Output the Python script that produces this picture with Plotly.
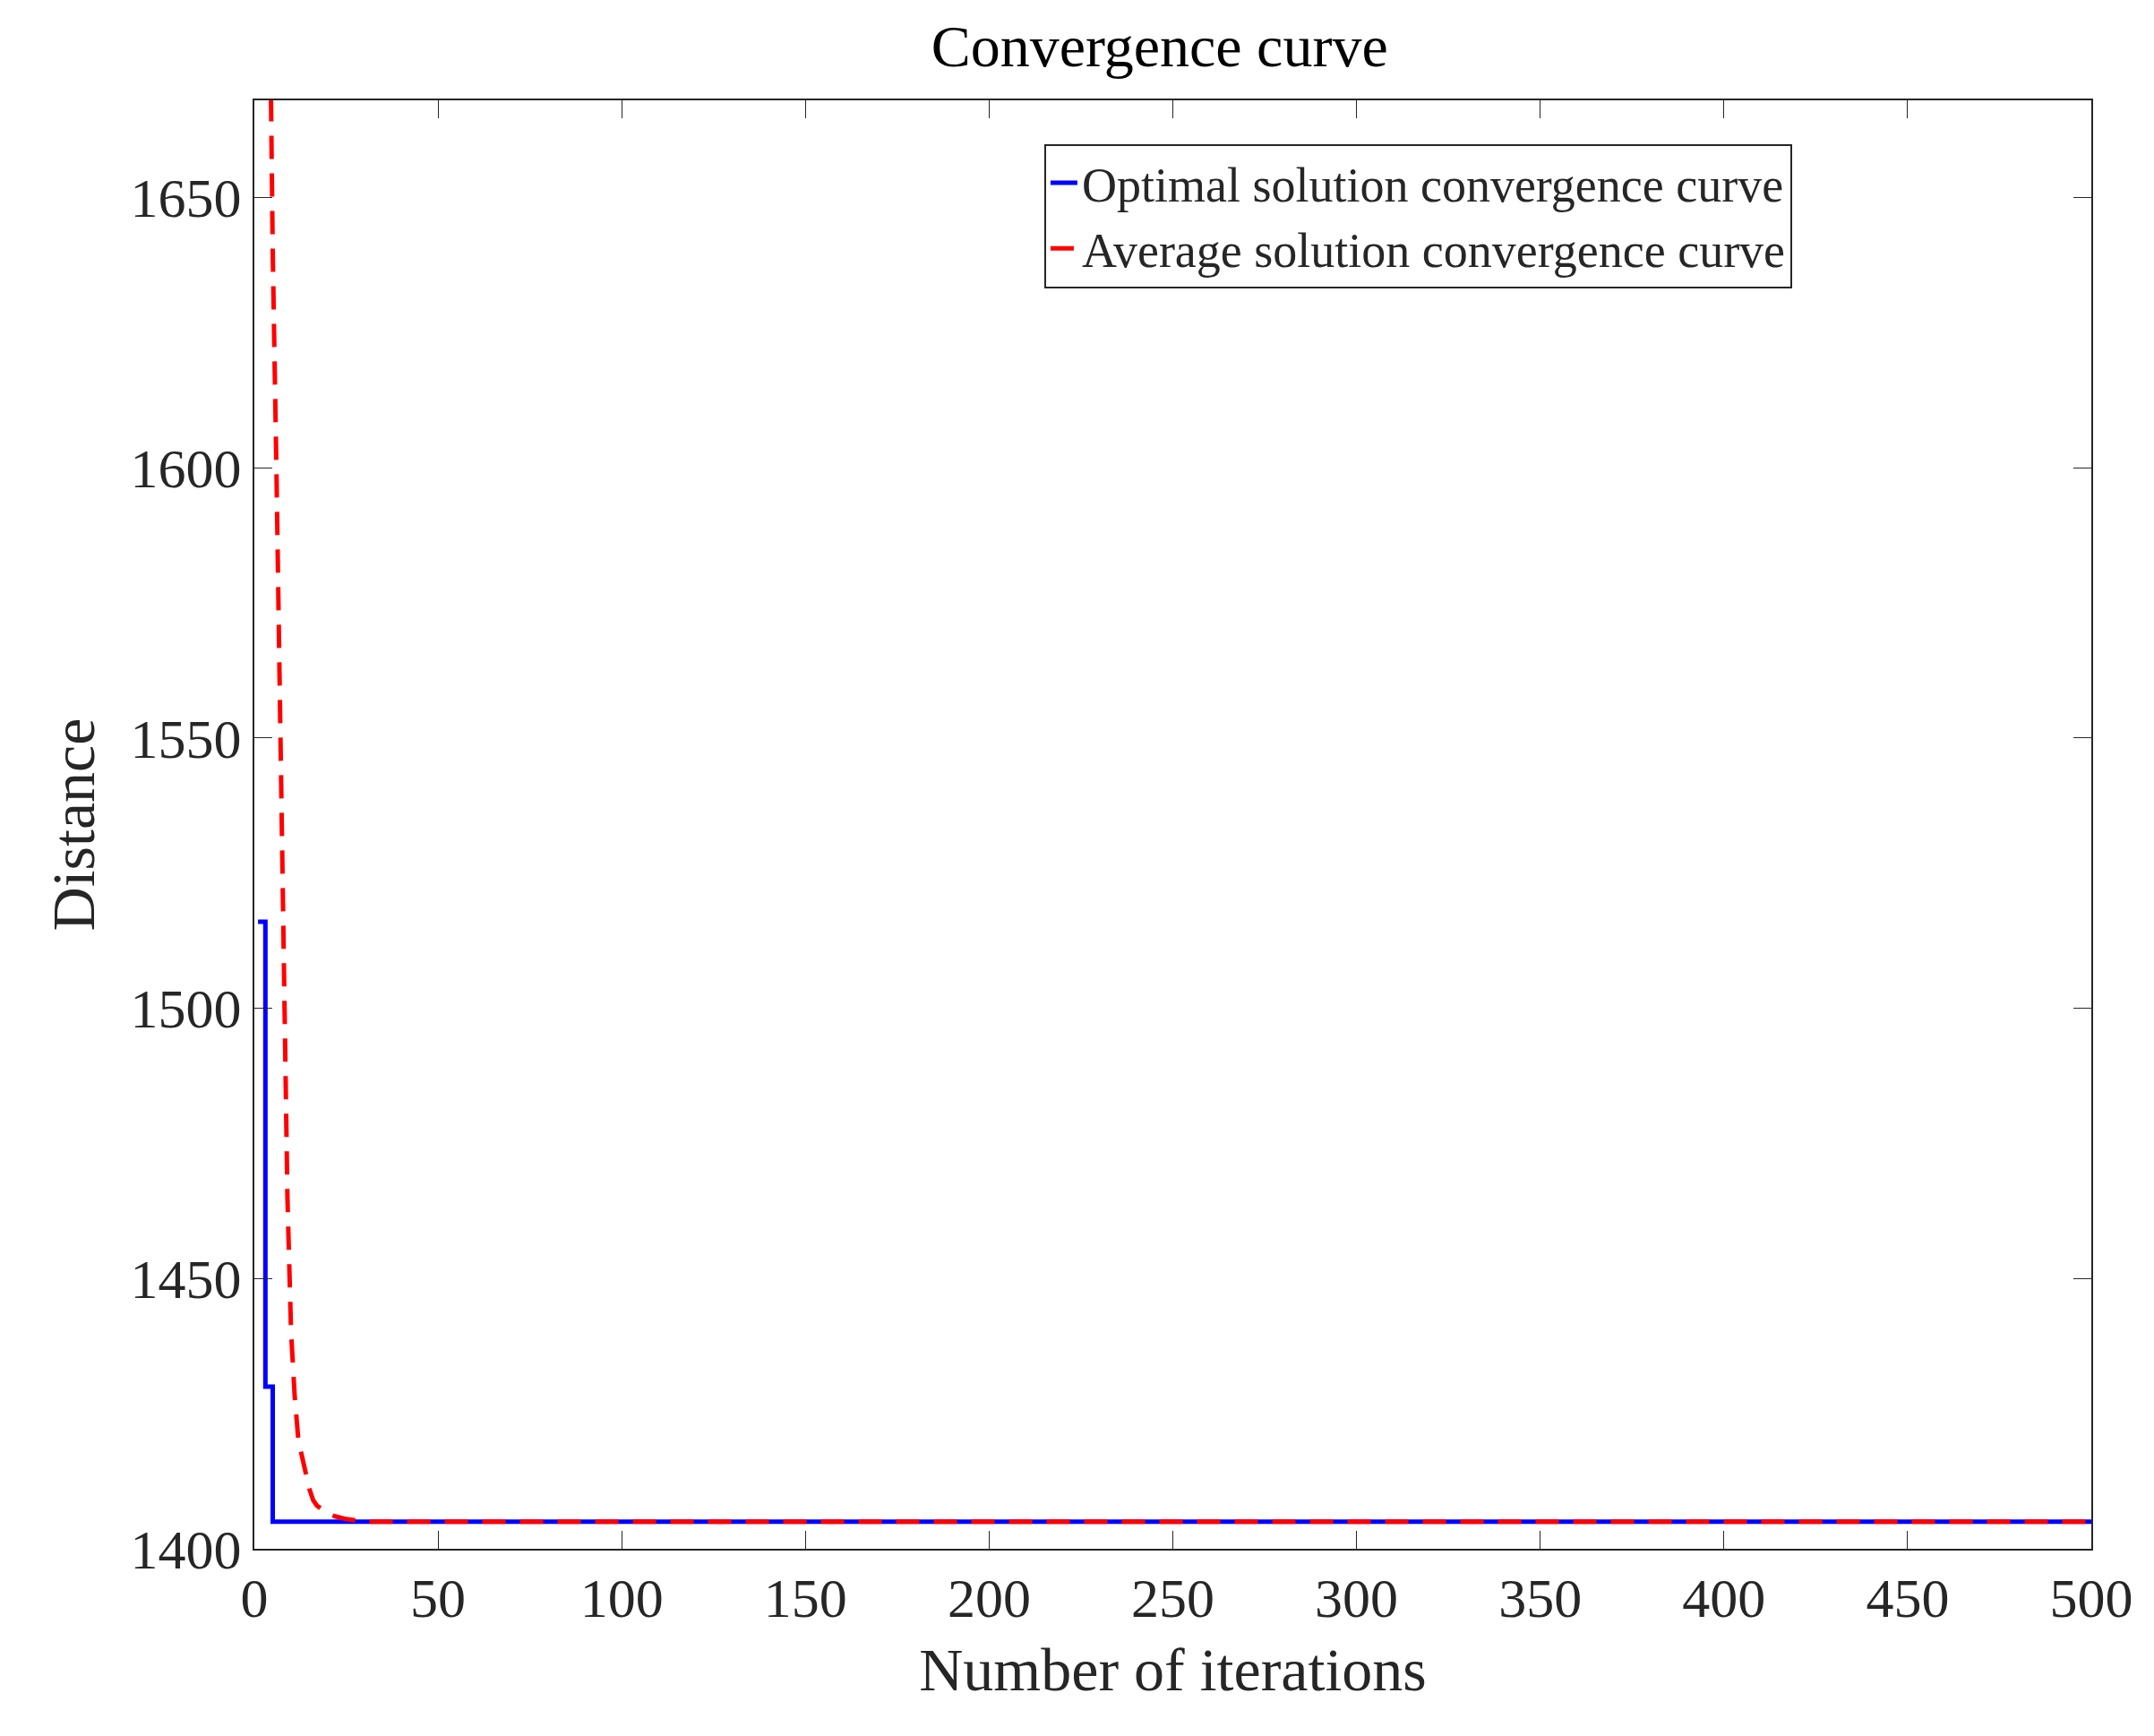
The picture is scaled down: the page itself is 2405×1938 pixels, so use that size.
import plotly.graph_objects as go

# optimal solution (step curve)
best_iter = [1, 2, 3, 4, 5, 500]
best_dist = [1516, 1516, 1430, 1430, 1405, 1405]

# average solution
avg_iter = [1, 2, 3, 4, 5, 6, 7, 8, 9, 10, 11, 12, 13, 14, 15, 16, 17, 18, 20, 22, 25, 30, 500]
avg_dist = [2100, 1900, 1780, 1700, 1640, 1600, 1550, 1500, 1465, 1440, 1428, 1420,
            1417, 1414, 1411, 1409, 1408, 1407.5, 1406.5, 1406, 1405.5, 1405, 1405]

font = "Liberation Serif"

fig = go.Figure()
fig.add_trace(go.Scatter(x=best_iter, y=best_dist, mode="lines", line_shape="hv",
                         name="Optimal solution convergence curve",
                         line=dict(color="#0000ff", width=5)))
fig.add_trace(go.Scatter(x=avg_iter, y=avg_dist, mode="lines",
                         name="Average solution convergence curve",
                         line=dict(color="#ff0000", width=5, dash="26px,16px")))

axis = dict(showgrid=False, zeroline=False, showline=True, linecolor="#262626", linewidth=2,
            mirror="ticks", ticks="inside", ticklen=20, tickcolor="#262626",
            tickfont=dict(family=font, size=62, color="#262626"))
fig.update_layout(
    width=2405, height=1938,
    paper_bgcolor="white", plot_bgcolor="white",
    margin=dict(l=276, r=78, t=104, b=217),
    title=dict(text="Convergence curve", x=0.535, xanchor="center", y=0.99, yanchor="top",
               font=dict(family=font, size=66, color="black")),
    xaxis=dict(range=[0, 500], dtick=50, title=dict(text="Number of iterations", standoff=22,
               font=dict(family=font, size=68, color="#262626")), **axis),
    yaxis=dict(range=[1400, 1668], tickvals=[1400, 1450, 1500, 1550, 1600, 1650],
               title=dict(text="Distance", standoff=18, font=dict(family=font, size=68, color="#262626")),
               **axis),
    legend=dict(x=0.43, y=0.97, xanchor="left", yanchor="top", bgcolor="white",
                bordercolor="#262626", borderwidth=2, tracegroupgap=0,
                font=dict(family=font, size=54, color="#262626")),
)
fig.write_html("out.html")
